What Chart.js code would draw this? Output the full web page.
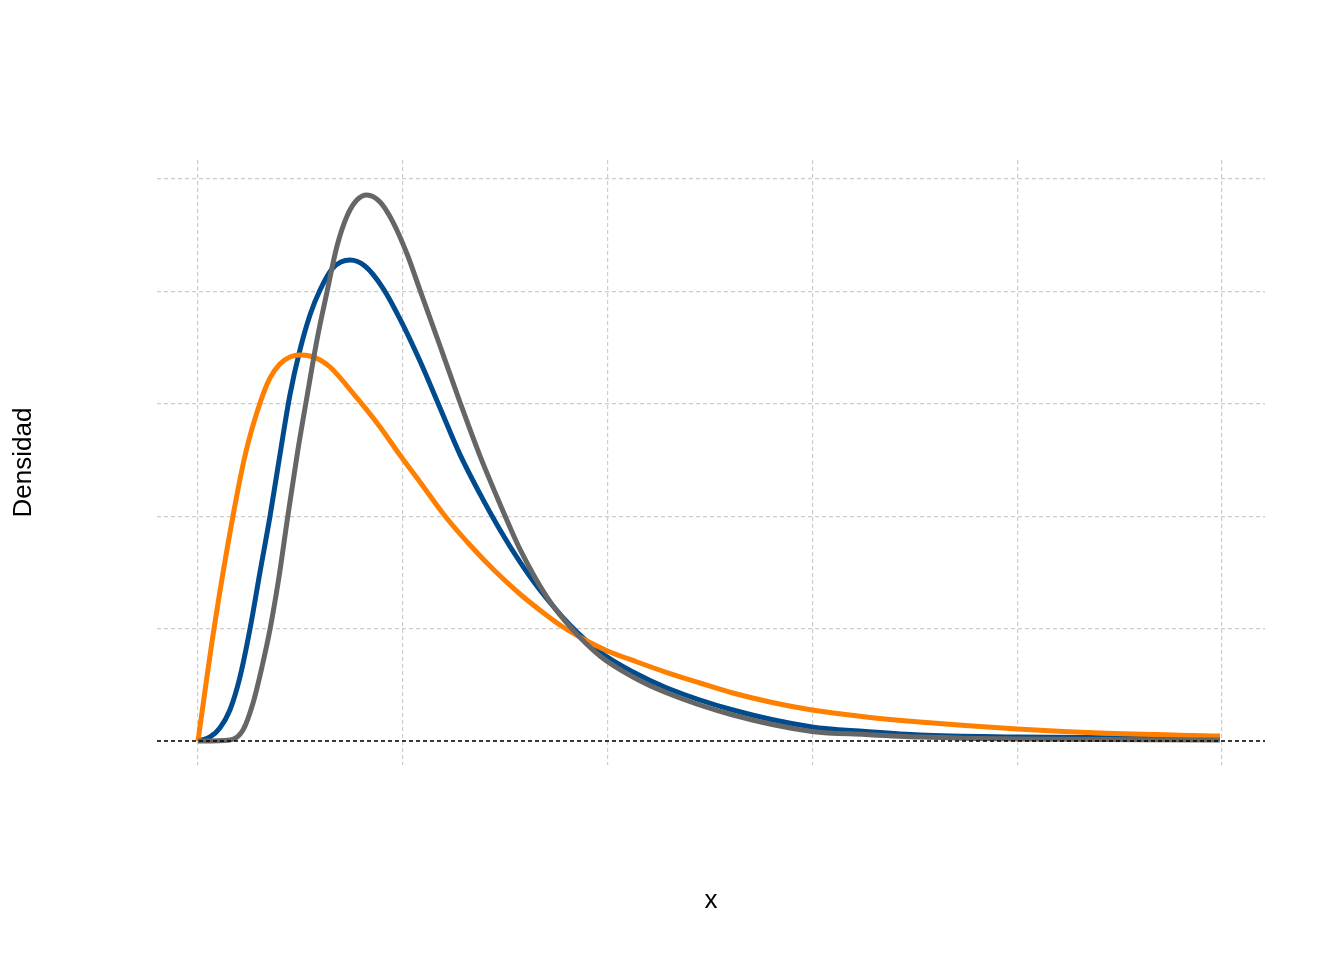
<!DOCTYPE html>
<html>
<head>
<meta charset="utf-8">
<script src="https://cdn.jsdelivr.net/npm/chart.js@4"></script>
<style>
    html, body { margin: 0; padding: 0; background: #ffffff; }
    #wrap { width: 1344px; height: 960px; }
</style>
</head>
<body>
<div id="wrap"><canvas id="densityChart" width="1344" height="960"></canvas></div>
<script>
// values
let orangeX = [0, 0.078, 0.171, 0.234, 0.303, 0.352, 0.40, 0.449, 0.498, 0.547, 0.596, 0.645, 0.776, 0.889, 0.986, 1.084, 1.206, 1.328, 1.45, 1.572, 1.694, 1.782, 1.89, 2.0, 2.144, 2.29, 2.451, 2.612, 2.793, 2.998, 3.262, 3.525, 4.0, 4.404, 4.99];
let orangeY = [0, 0.996, 2.002, 2.571, 3.007, 3.23, 3.354, 3.416, 3.434, 3.425, 3.39, 3.327, 3.052, 2.794, 2.544, 2.304, 2.002, 1.744, 1.512, 1.308, 1.13, 1.014, 0.899, 0.801, 0.703, 0.609, 0.516, 0.427, 0.347, 0.276, 0.214, 0.169, 0.107, 0.071, 0.044];

let blueX = [0, 0.059, 0.107, 0.156, 0.205, 0.254, 0.303, 0.352, 0.40, 0.449, 0.498, 0.547, 0.596, 0.659, 0.742, 0.815, 0.903, 0.996, 1.084, 1.182, 1.279, 1.377, 1.475, 1.572, 1.67, 1.816, 1.963, 2.124, 2.29, 2.612, 2.998, 3.26, 3.525, 4.0, 4.565, 4.99];
let blueY = [0, 0.036, 0.116, 0.276, 0.569, 0.996, 1.504, 2.002, 2.544, 3.078, 3.479, 3.79, 4.012, 4.208, 4.279, 4.226, 4.03, 3.72, 3.38, 2.963, 2.55, 2.198, 1.877, 1.593, 1.343, 1.032, 0.792, 0.614, 0.472, 0.276, 0.125, 0.085, 0.053, 0.036, 0.027, 0.018];

let greyX = [0, 0.156, 0.22, 0.269, 0.3125, 0.352, 0.391, 0.439, 0.488, 0.532, 0.581, 0.63, 0.679, 0.728, 0.776, 0.825, 0.889, 0.952, 1.021, 1.084, 1.182, 1.279, 1.377, 1.46, 1.523, 1.572, 1.704, 1.831, 1.963, 2.124, 2.29, 2.612, 2.998, 3.26, 3.525, 4.0, 4.99];
let greyY = [0, 0.009, 0.098, 0.338, 0.658, 0.996, 1.406, 2.002, 2.589, 3.06, 3.568, 3.995, 4.404, 4.671, 4.813, 4.858, 4.795, 4.617, 4.333, 4.012, 3.514, 3.016, 2.536, 2.171, 1.904, 1.708, 1.281, 0.988, 0.756, 0.569, 0.427, 0.231, 0.085, 0.058, 0.036, 0.018, 0.009];

let xMin = -0.2, xMax = 5.21;
let yMin = -0.2135, yMax = 5.169;

const toPoints = (xs, ys) => xs.map((x, i) => ({ x: x, y: ys[i] }));

const curve = (label, colour, xs, ys, order) => ({
    label: label,
    data: toPoints(xs, ys),
    borderColor: colour,
    backgroundColor: colour,
    borderWidth: 5,
    pointRadius: 0,
    fill: false,
    cubicInterpolationMode: 'monotone',
    order: order,
});

let ctx = document.getElementById('densityChart').getContext('2d');

let chartConfig = {
    type: 'line',
    data: {
        datasets: [
            {
                label: 'cero',
                data: [{ x: xMin, y: 0 }, { x: xMax, y: 0 }],
                borderColor: '#000000',
                borderWidth: 1.4,
                borderDash: [4, 3],
                pointRadius: 0,
                fill: false,
                order: 0,
            },
            curve('gris', '#666666', greyX, greyY, 1),
            curve('naranja', '#ff7f00', orangeX, orangeY, 2),
            curve('azul', '#004b8d', blueX, blueY, 3),
        ],
    },
    options: {
        responsive: false,
        animation: false,
        layout: { padding: { top: 160, right: 79, left: 0, bottom: 0 } },
        plugins: { legend: { display: false }, tooltip: { enabled: false } },
        scales: {
            x: {
                type: 'linear',
                min: xMin,
                max: xMax,
                ticks: { display: false, stepSize: 1, includeBounds: false },
                grid: { color: '#cccccc', lineWidth: 1.2, drawTicks: false },
                border: { display: false, dash: [4, 3] },
                title: {
                    display: true,
                    text: 'x',
                    color: '#000000',
                    font: { family: 'Liberation Sans', size: 26 },
                    padding: { top: 120.4, bottom: 43.4 },
                },
            },
            y: {
                type: 'linear',
                min: yMin,
                max: yMax,
                ticks: { display: false, stepSize: 1, includeBounds: false },
                grid: { color: '#cccccc', lineWidth: 1.2, drawTicks: false },
                border: { display: false, dash: [4, 3] },
                title: {
                    display: true,
                    text: 'Densidad',
                    color: '#000000',
                    font: { family: 'Liberation Sans', size: 26 },
                    padding: { top: 8.4, bottom: 117.4 },
                },
            },
        },
    },
};
let densityChart = new Chart(ctx, chartConfig);
</script>
</body>
</html>
